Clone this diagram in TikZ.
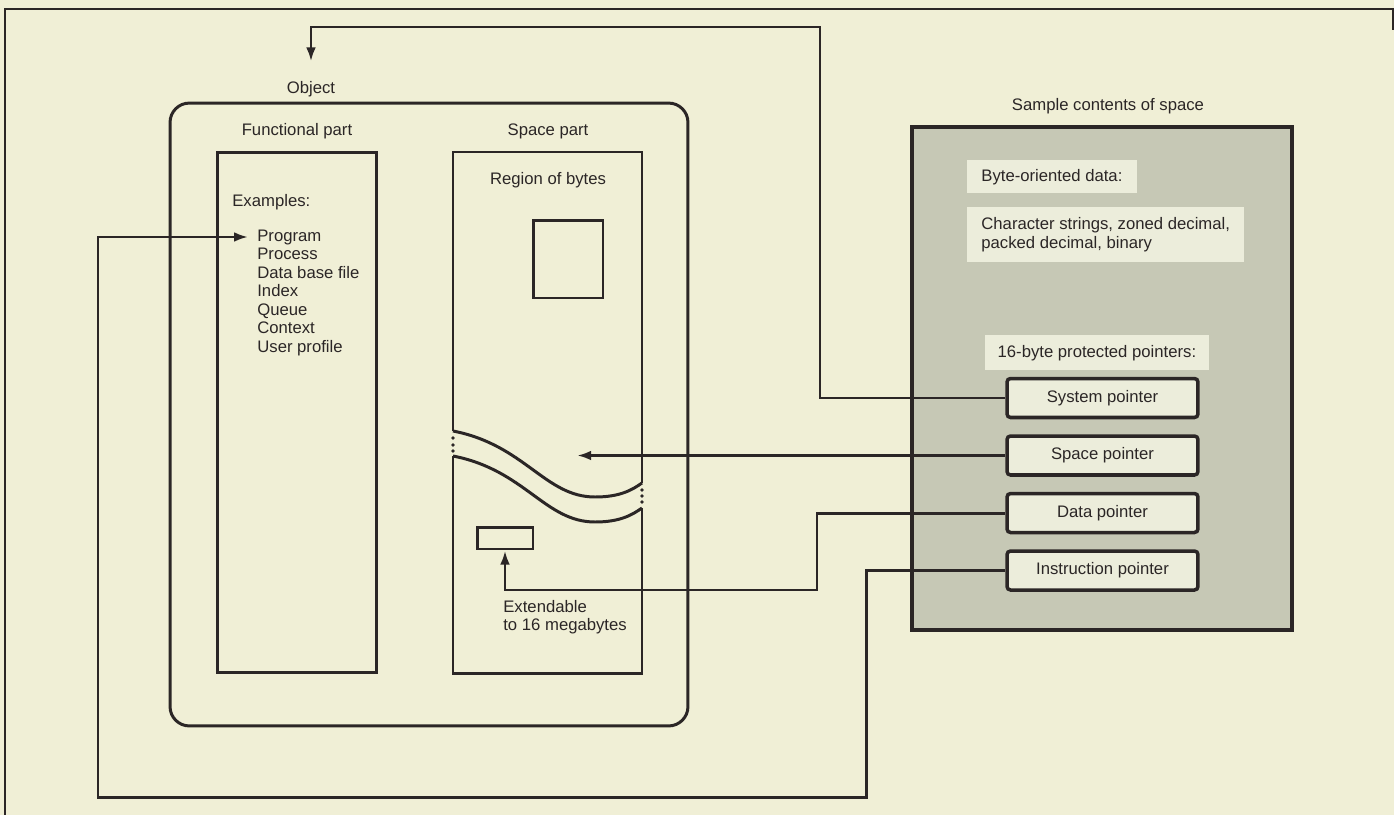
\documentclass[tikz,border=0pt]{standalone}
\usepackage{fontspec}
\setmainfont{Liberation Sans}
\usetikzlibrary{arrows.meta}
\usetikzlibrary{positioning}

\definecolor{paper}{HTML}{F0EFD6}
\definecolor{ink}{HTML}{2B2626}
\definecolor{spacegray}{HTML}{C6C8B5}
\definecolor{patch}{HTML}{ECEDDB}

\newcommand\lblfont{\fontsize{9.5}{10.5}\selectfont}

\tikzset{
	lbl/.style={font=\lblfont, inner sep=0pt, text=ink},
	part/.style={draw=ink, line width=1.7pt},
	link/.style={draw=ink, line width=1.7pt},
	arr/.style={link, -{Latex[length=8pt, width=5.5pt]}},
	ptrbox/.style={draw=ink, line width=2pt, fill=patch, rounded corners=2pt,
		minimum width=3.82cm, minimum height=0.78cm, font=\lblfont, text=ink},
	patchbox/.style={fill=patch, font=\lblfont, text=ink, align=left,
		inner xsep=8pt, inner ysep=5pt},
}

\begin{document}
\begin{tikzpicture}[x=0.02cm, y=-0.02cm]

	% page and frame
	\fill[paper] (0,0) rectangle (1394,815);
	\useasboundingbox (0,0) rectangle (1394,815);
	\draw[ink, line width=1.3pt] (5,815) -- (5,9) -- (1393,9) -- (1393,30);

	% the object
	\node[part, rounded corners=11pt, minimum width=10.36cm, minimum height=12.46cm] (object) at (429,414.5) {};
	\node[lbl, inner sep=4pt] (obj) at (311,89) {Object};

	% functional part
	\node[part, minimum width=3.2cm, minimum height=10.42cm] (func) at (297,412.5) {};
	\node[lbl] (funclbl) at (297,131) {Functional part};
	\node[lbl, anchor=west] (examples) at (232,202) {Examples:};
	\foreach \name [count=\i] in {Program, Process, Data base file, Index, Queue, Context, User profile}
		\node[lbl, anchor=base west] (ex\i) at (257, {241+18.5*(\i-1)}) {\name};

	% space part
	\node[lbl] (spacelbl) at (548,131) {Space part};
	\draw[part] (453,431) -- (453,152) -- (642,152) -- (642,483);
	\draw[part] (453,431) .. controls (525,445) and (545,497) .. (595,497)
		.. controls (620,497) and (632,490) .. (642,483);
	\draw[part] (453,456) .. controls (525,470) and (545,522) .. (595,522)
		.. controls (620,522) and (632,515) .. (642,508);
	\draw[part] (453,456) -- (453,673) -- (642,673) -- (642,508);
	\foreach \y in {438,445,451}
		\fill[ink] (453,\y) circle (1.8);
	\foreach \y in {490,496,502}
		\fill[ink] (642,\y) circle (1.8);
	\node[lbl] (regionlbl) at (548,180) {Region of bytes};
	\node[part, minimum width=1.4cm, minimum height=1.56cm] (regbox) at (568,259) {};
	\node[part, minimum width=1.12cm, minimum height=0.44cm] (extbox) at (505,538) {};
	\node[lbl, anchor=north west, align=left] (extlbl) at (503,600) {Extendable\\to 16 megabytes};

	% sample contents of space
	\node[draw=ink, line width=2pt, fill=spacegray, minimum width=7.6cm, minimum height=10.06cm] (sample) at (1102,378.5) {};
	\node[lbl] (sampletitle) at (1108,106) {Sample contents of space};
	\node[patchbox, anchor=north west, minimum height=0.66cm] (bytedata) at (967,160) {Byte-oriented data:};
	\node[patchbox, anchor=north west, inner ysep=6pt] (bytekinds) at (967,207) {Character strings, zoned decimal,\\packed decimal, binary};
	\node[patchbox, anchor=north west, inner xsep=7pt, minimum height=0.7cm] (ptrtitle) at (985,335) {16-byte protected pointers:};

	\node[ptrbox] (sysptr) at (1102.5,398) {System pointer};
	\node[ptrbox, below=0.3cm of sysptr] (spcptr) {Space pointer};
	\node[ptrbox, below=0.3cm of spcptr] (datptr) {Data pointer};
	\node[ptrbox, below=0.3cm of datptr] (insptr) {Instruction pointer};

	% pointer lines
	\coordinate (systop) at (820,27);
	\coordinate (spctip) at (577,454);
	\coordinate (datbend) at (817,590);
	\coordinate (insbend) at (866,797);
	\coordinate (loopx) at (98,700);

	\draw[arr, shorten >=7pt] (sysptr.west) -| (systop) -| (obj.north);
	\draw[arr] (spcptr.west) -- (spcptr.west -| spctip);
	\draw[arr] (datptr.west) -| (datbend) -| (extbox.south);
	\draw[arr, shorten >=5pt] (insptr.west) -| (insbend) -| (loopx) |- (ex1.west);

\end{tikzpicture}
\end{document}
